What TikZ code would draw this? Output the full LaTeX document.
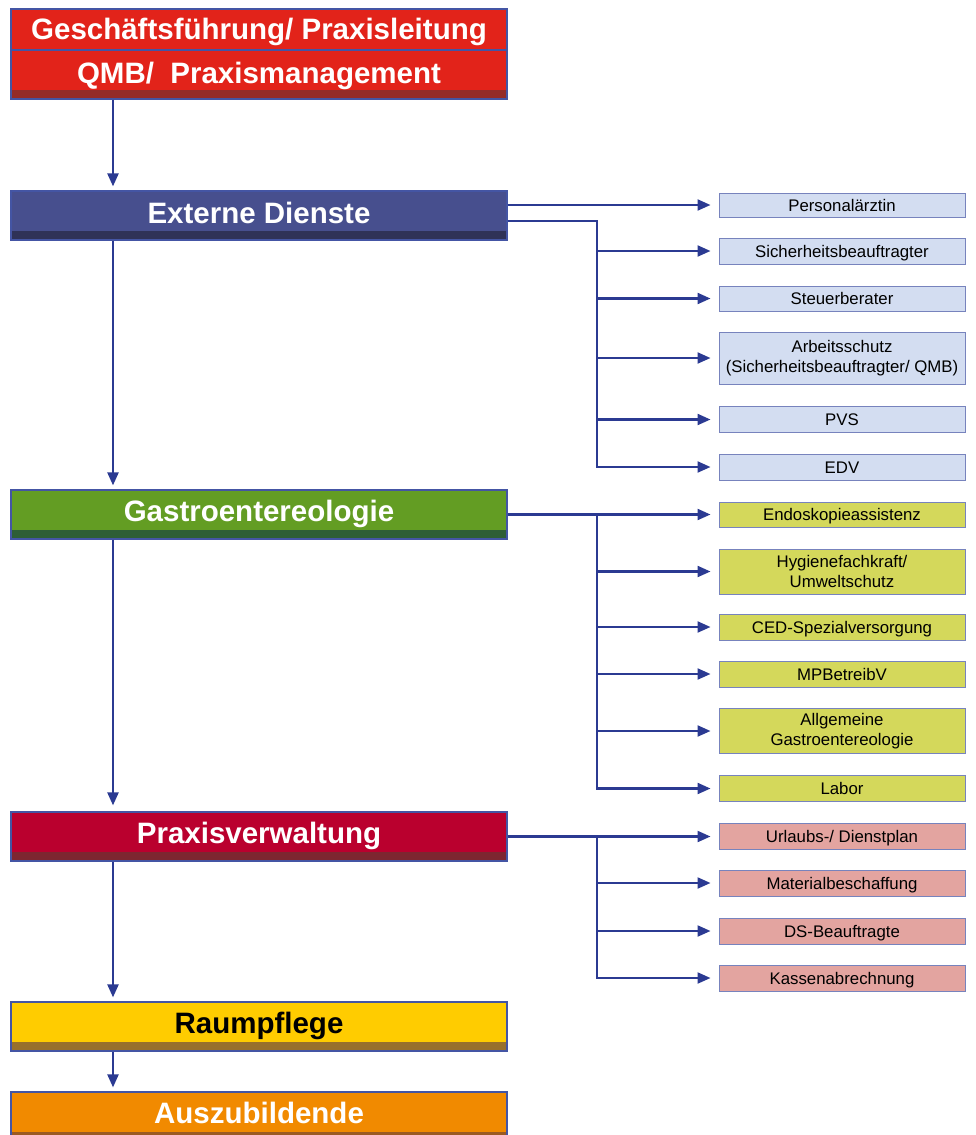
\documentclass[tikz,border=0pt]{standalone}
\usepackage{fontspec}
\setmainfont{Liberation Sans}
\usetikzlibrary{arrows.meta,calc}
\definecolor{conn}{HTML}{2B3A92}
\definecolor{mainborder}{HTML}{4455A4}
\definecolor{subborder}{HTML}{7783BD}
\definecolor{hdrred}{HTML}{E2231A}
\definecolor{hdrband}{HTML}{942B28}
\definecolor{extfill}{HTML}{474F8E}
\definecolor{extband}{HTML}{2F3257}
\definecolor{gasfill}{HTML}{639D23}
\definecolor{gasband}{HTML}{2E5E35}
\definecolor{prxfill}{HTML}{BA002E}
\definecolor{prxband}{HTML}{7D2630}
\definecolor{raumfill}{HTML}{FFCC00}
\definecolor{raumband}{HTML}{98702C}
\definecolor{azubifill}{HTML}{F18A00}
\definecolor{azubiband}{HTML}{9B5A22}
\definecolor{subblue}{HTML}{D3DDF1}
\definecolor{subgreen}{HTML}{D4D85B}
\definecolor{subpink}{HTML}{E3A4A0}
\tikzset{
  mainbox/.style={rectangle, draw=mainborder, line width=1.2pt, inner sep=0pt,
    minimum width=496pt, minimum height=49pt, text=white,
    font=\fontsize{29.5}{30}\selectfont\bfseries, text height=21pt, text depth=8pt},
  band/.style={path picture={\fill[#1] (path picture bounding box.south west) rectangle ([yshift=9pt]path picture bounding box.south east);}},
  subbox/.style={rectangle, draw=subborder, line width=1pt, inner sep=0pt,
    minimum width=246pt, fill=#1, align=center,
    font=\fontsize{16.8}{20}\selectfont},
  oneline/.style={text height=12pt, text depth=0pt},
  conn/.style={draw=conn, line width=2.2pt},
  arr/.style={conn, -{Triangle[length=13pt,width=11pt]}},
  subarr/.style={arr, shorten >=8pt},
  mainarr/.style={arr, shorten >=4pt}
}
\begin{document}
\begin{tikzpicture}[x=1pt,y=-1pt]
\useasboundingbox (0,0) rectangle (976,1135);
\clip (0,0) rectangle (976,1135);
\coordinate (vx) at (113,0);
\coordinate (bx) at (597,0);
% main boxes
\node[mainbox, fill=hdrred, minimum height=41pt, text depth=1pt] (hdrA) at (259,29.5) {Geschäftsführung/ Praxisleitung};
\node[mainbox, fill=hdrred, band=hdrband, text depth=4pt] (hdrB) at (259,74.5) {QMB/\ \ Praxismanagement};
\node[mainbox, fill=extfill, band=extband, text depth=6pt] (ext) at (259,215.5) {Externe Dienste};
\node[mainbox, fill=gasfill, band=gasband] (gas) at (259,514.5) {Gastroentereologie};
\node[mainbox, fill=prxfill, band=prxband] (prx) at (259,836.5) {Praxisverwaltung};
\node[mainbox, fill=raumfill, band=raumband, text=black] (raum) at (259,1026.5) {Raumpflege};
\node[mainbox, fill=azubifill, band=azubiband] (azubi) at (259,1116.5) {Auszubildende};
% sub boxes: Externe Dienste
\node[subbox=subblue, oneline, minimum height=24pt] (pers) at (842,205) {Personalärztin};
\node[subbox=subblue, oneline, minimum height=26pt] (sich) at (842,251) {Sicherheitsbeauftragter};
\node[subbox=subblue, oneline, minimum height=25pt] (steu) at (842,298.5) {Steuerberater};
\node[subbox=subblue, minimum height=52pt] (arb) at (842,358) {Arbeitsschutz\\(Sicherheitsbeauftragter/ QMB)};
\node[subbox=subblue, oneline, minimum height=26pt] (pvs) at (842,419.5) {PVS};
\node[subbox=subblue, oneline, minimum height=26pt] (edv) at (842,467) {EDV};
% sub boxes: Gastroentereologie
\node[subbox=subgreen, oneline, minimum height=25pt] (endo) at (842,514.5) {Endoskopieassistenz};
\node[subbox=subgreen, minimum height=45pt] (hyg) at (842,571.5) {Hygienefachkraft/\\Umweltschutz};
\node[subbox=subgreen, oneline, minimum height=26pt] (ced) at (842,627) {CED-Spezialversorgung};
\node[subbox=subgreen, oneline, minimum height=26pt] (mp) at (842,674) {MPBetreibV};
\node[subbox=subgreen, minimum height=45pt] (allg) at (842,731) {Allgemeine\\Gastroentereologie};
\node[subbox=subgreen, oneline, minimum height=26pt] (labor) at (842,788.5) {Labor};
% sub boxes: Praxisverwaltung
\node[subbox=subpink, oneline, minimum height=26pt] (url) at (842,836.5) {Urlaubs-/ Dienstplan};
\node[subbox=subpink, oneline, minimum height=26pt] (mat) at (842,883) {Materialbeschaffung};
\node[subbox=subpink, oneline, minimum height=26pt] (ds) at (842,931) {DS-Beauftragte};
\node[subbox=subpink, oneline, minimum height=26pt] (kas) at (842,978) {Kassenabrechnung};
% main vertical arrows
\draw[mainarr] (vx |- hdrB.south) -- (vx |- ext.north);
\draw[mainarr] (vx |- ext.south) -- (vx |- gas.north);
\draw[mainarr, shorten >=6pt] (vx |- gas.south) -- (vx |- prx.north);
\draw[mainarr] (vx |- prx.south) -- (vx |- raum.north);
\draw[mainarr] (vx |- raum.south) -- (vx |- azubi.north);
% Externe Dienste connectors
\draw[subarr] (ext.east |- pers) -- (pers.west);
\draw[subarr] ($(ext.east)+(0,5.5)$) -| (bx |- edv) -- (edv.west);
\foreach \n in {sich,steu,arb,pvs} \draw[subarr] (bx |- \n) -- (\n.west);
% Gastroentereologie connectors
\draw[subarr] (gas.east |- endo) -- (endo.west);
\draw[subarr] (bx |- endo) -- (bx |- labor) -- (labor.west);
\foreach \n in {hyg,ced,mp,allg} \draw[subarr] (bx |- \n) -- (\n.west);
% Praxisverwaltung connectors
\draw[subarr] (prx.east |- url) -- (url.west);
\draw[subarr] (bx |- url) -- (bx |- kas) -- (kas.west);
\foreach \n in {mat,ds} \draw[subarr] (bx |- \n) -- (\n.west);
\end{tikzpicture}
\end{document}
